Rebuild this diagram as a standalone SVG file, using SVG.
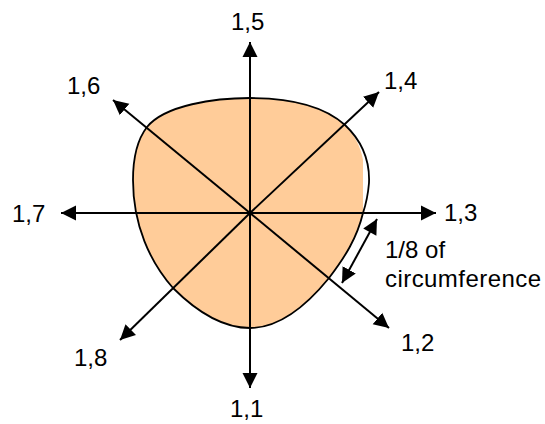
<svg xmlns="http://www.w3.org/2000/svg" width="545" height="424" viewBox="0 0 545 424">
<style>
text{font-family:"Liberation Sans",Arial,sans-serif;font-size:24px;fill:#000}
.c{stroke:#000;stroke-width:2;fill:none;marker-end:url(#a)}
.d{stroke:#000;stroke-width:2;fill:none;marker-start:url(#b);marker-end:url(#a)}
</style>
<defs>
<marker id="a" markerUnits="userSpaceOnUse" markerWidth="16" markerHeight="16" refX="15" refY="8" orient="auto"><path d="M0 0.5L15 8L0 15.5Z" fill="#000"/></marker>
<marker id="b" markerUnits="userSpaceOnUse" markerWidth="16" markerHeight="16" refX="0" refY="8" orient="auto"><path d="M15 0.5L0 8L15 15.5Z" fill="#000"/></marker>
</defs>
<g id="shape">
<path d="M250 98C285 98 322 104 345 125C355 135 361 148 363 160V213C357 238 345 257 329 278C307 305 280 328 250 328C222 328 195 310 173 288C150 262 133 225 133 180C133 158 137 140 147 127C165 105 215 98 250 98Z" fill="#ffcc99"/>
<path d="M250 98C285 98 322 104 345 125C362 141 370 160 369 183C368 195 366 204 363 213C357 238 345 257 329 278C307 305 280 328 250 328C222 328 195 310 173 288C150 262 133 225 133 180C133 158 137 140 147 127C165 105 215 98 250 98Z" fill="none" stroke="#000" stroke-width="1.8"/>
</g>
<g id="connectors">
<path class="c" d="M250 213V42"/><path class="c" d="M250 213V388"/>
<path class="c" d="M250 213H436"/><path class="c" d="M250 213H61"/>
<path class="c" d="M250 213L379 92"/><path class="c" d="M250 213L113 100"/>
<path class="c" d="M250 213L389 328"/><path class="c" d="M250 213L120 340"/>
<path class="d" d="M377 219L342 283"/>
</g>
<g id="labels">
<text x="231" y="30">1,5</text><text x="384" y="89">1,4</text><text x="67" y="94">1,6</text>
<text x="444" y="221">1,3</text><text x="12" y="222">1,7</text><text x="401" y="351">1,2</text>
<text x="74" y="366">1,8</text><text x="230" y="417">1,1</text>
<text x="385" y="258">1/8 of</text><text x="385" y="287" textLength="156">circumference</text>
</g>
</svg>
